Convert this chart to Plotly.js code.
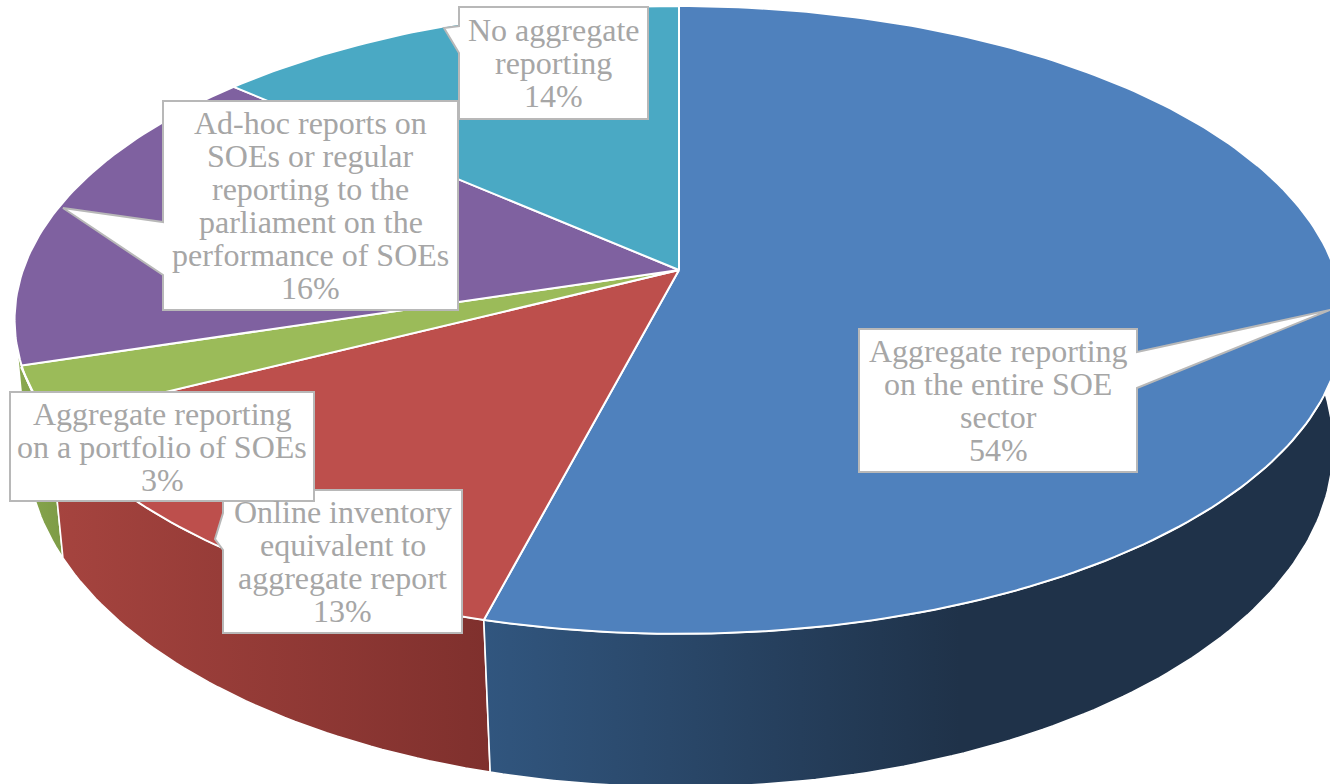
<!DOCTYPE html>
<html><head><meta charset="utf-8">
<script src="https://cdn.plot.ly/plotly-3.0.1.min.js"></script>
<style>html,body{margin:0;padding:0;background:#fff}#chart{width:1330px;height:784px}</style>
</head><body><div id="chart"></div>
<script>
// ---- data ----
const categories = [
  "Aggregate reporting\non the entire SOE\nsector",
  "Online inventory\nequivalent to\naggregate report",
  "Aggregate reporting\non a portfolio of SOEs",
  "Ad-hoc reports on\nSOEs or regular\nreporting to the\nparliament on the\nperformance of SOEs",
  "No aggregate\nreporting"
];
const values = [54.05, 13.45, 2.7, 16.3, 13.5];
const topColors = ["#4f81bd", "#bd4f4c", "#9bbb59", "#7f61a0", "#4aa9c4"];
const sideColors = [
  ["#31567f", "#1f3249"],
  ["#a6443f", "#7f302d"],
  ["#8aa950", "#7d9b46"],
  ["#5d4478", "#5d4478"],
  ["#2f7286", "#2f7286"]
];
const wallOverlap = [0, 0, 4, 0, 0];   // degrees a wall runs past its slice end
// box: left, top, right, bottom; callout: tip and the two base points on the box edge
const labelBoxes = [
  {box:[859,329,1137,472], edge:"right",  tip:[1330,310], base:[352,388]},
  {box:[223,490,462,633],  edge:"left",   tip:[215,539],  base:[513,550]},
  {box:[10,392,314,501],   edge:"none",   tip:[21,367],   base:[33,392]},
  {box:[163,101,458,310],  edge:"left",   tip:[63,208],   base:[222,275]},
  {box:[459,7,648,119],    edge:"left",   tip:[444,28],   base:[26,53]}
];
const lineStep = 33, textSize = 32;
// ---- perspective of the pie ----
const pie = {cx:679, cy:270, rx:656, ry:306, k:0.159};
const rim = {cx:680, cy:396, rx:646, ry:333, k:0.148};
const visibleSide = [75, 285];   // clockwise degrees from 12 o'clock

function project(p, deg){
  const t = deg*Math.PI/180, u = Math.sin(t), v = Math.cos(t), d = 1 + p.k*v;
  return [p.cx + p.rx*u/d, p.cy - p.ry*v/d];
}
function arc(p, a, b){
  const out = [], n = Math.max(2, Math.ceil(Math.abs(b-a)));
  for(let i=0;i<=n;i++) out.push(project(p, a+(b-a)*i/n));
  return out;
}
const total = values.reduce((s,v)=>s+v,0);
const traces = [];
let acc = 0;
const spans = values.map(v=>{const s=[acc/total*360,(acc+v)/total*360];acc+=v;return s;});

// side walls first, back to front
spans.map((s,i)=>[s,i]).reverse().forEach(([s,i])=>{
  const a = Math.max(s[0],visibleSide[0]), b = Math.min(s[1]+wallOverlap[i],visibleSide[1]);
  if(b<=a) return;
  const pts = arc(pie,a,b).concat(arc(rim,b,a));
  pts.push(pts[0]);
  const xs = pts.map(q=>q[0]);
  const grad = i===0 ? [483,960] : [Math.min(...xs),Math.max(...xs)];
  traces.push({type:"scatter",mode:"lines",x:xs,y:pts.map(q=>q[1]),fill:"toself",
    line:{color:"#ffffff",width:1.6},hoverinfo:"skip",showlegend:false,
    fillgradient:{type:"horizontal",start:grad[0],stop:grad[1],
      colorscale:[[0,sideColors[i][0]],[1,sideColors[i][1]]]}});
});
// top slices
spans.forEach((s,i)=>{
  const pts = [[pie.cx,pie.cy]].concat(arc(pie,s[0],s[1]));
  pts.push([pie.cx,pie.cy]);
  traces.push({type:"scatter",mode:"lines",x:pts.map(q=>q[0]),y:pts.map(q=>q[1]),
    fill:"toself",fillcolor:topColors[i],line:{color:"#ffffff",width:2},
    name:categories[i].replace(/\n/g," "),hoverinfo:"name",showlegend:false});
});
// label boxes with callouts, and their text
const shapes = [], annotations = [];
labelBoxes.forEach((l,i)=>{
  const [x0,y0,x1,y1] = l.box, [tx,ty] = l.tip, [b0,b1] = l.base;
  let path = `M${x0},${y0}L${x1},${y0}L${x1},${y1}L${x0},${y1}Z`;
  if(l.edge==="right") path=`M${x0},${y0}L${x1},${y0}L${x1},${b0}L${tx},${ty}L${x1},${b1}L${x1},${y1}L${x0},${y1}Z`;
  if(l.edge==="left")  path=`M${x0},${y0}L${x1},${y0}L${x1},${y1}L${x0},${y1}L${x0},${b1}L${tx},${ty}L${x0},${b0}Z`;
  if(l.edge==="none")  shapes.push({type:"line",x0:tx,y0:ty,x1:b0,y1:b1,xref:"x",yref:"y",layer:"above",
    line:{color:"#ffffff",width:2}});
  shapes.push({type:"path",path,xref:"x",yref:"y",fillcolor:"#ffffff",layer:"above",
    line:{color:"#b8b8b8",width:2}});
  const lines = categories[i].split("\n").concat([Math.round(values[i])+"%"]);
  const mid = (y0+y1)/2, xm = (x0+x1)/2;
  lines.forEach((t,j)=>{
    annotations.push({x:xm,y:mid+(j-(lines.length-1)/2)*lineStep,xref:"x",yref:"y",text:t,
      showarrow:false,xanchor:"center",yanchor:"middle",
      font:{family:"Liberation Serif, serif",size:textSize,color:"#a6a6a6"}});
  });
});
const layout = {
  width:1330,height:784,margin:{l:0,r:0,t:0,b:0},
  paper_bgcolor:"#ffffff",plot_bgcolor:"#ffffff",showlegend:false,
  xaxis:{range:[0,1330],visible:false,fixedrange:true},
  yaxis:{range:[784,0],visible:false,fixedrange:true},
  shapes,annotations
};
Plotly.newPlot("chart",traces,layout,{displayModeBar:false,staticPlot:true});
</script></body></html>
